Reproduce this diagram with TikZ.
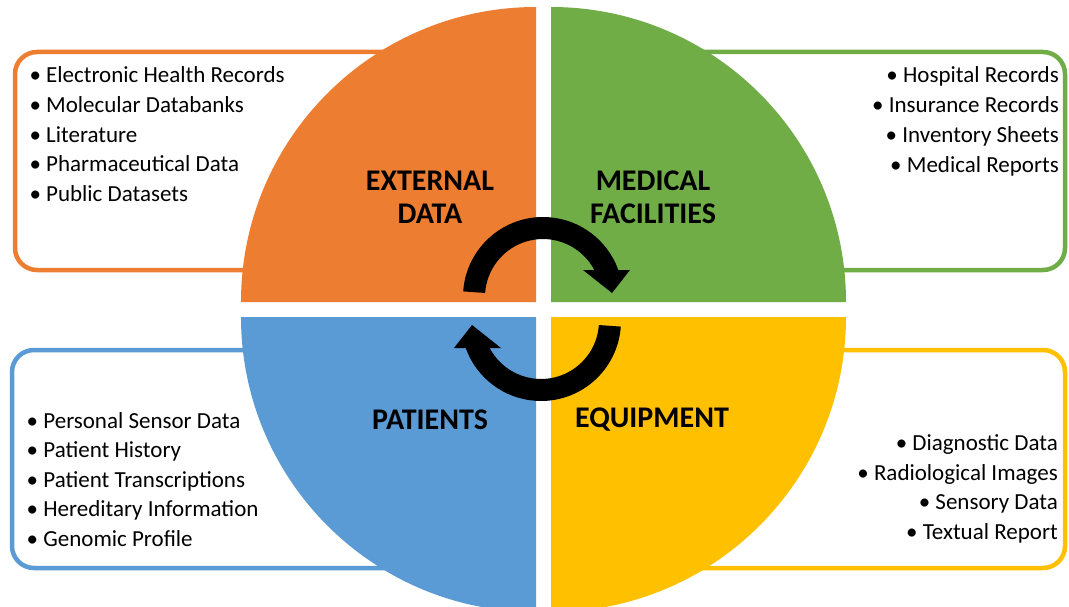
\documentclass[tikz,border=0pt]{standalone}
\usepackage{fontspec}
\setmainfont{Carlito}
\definecolor{qOrange}{HTML}{ED7D31}
\definecolor{qGreen}{HTML}{70AD47}
\definecolor{qBlue}{HTML}{5B9BD5}
\definecolor{qYellow}{HTML}{FFC000}
\begin{document}
\begin{tikzpicture}[x=1pt,y=-1pt,
  panel/.style={line width=4.5pt, rounded corners=22pt, fill=white},
  quad/.style={draw=none},
  heading/.style={font=\bfseries\fontsize{30}{33}\selectfont, align=center, inner sep=0pt, text=black},
  item/.style={font=\fontsize{23}{28}\selectfont, inner sep=0pt, text=black},
  cyclearrow/.style={fill=black, draw=none}]
\useasboundingbox (0,0) rectangle (1069,607);
\clip (0,0) rectangle (1069,607);
\fill[white] (0,0) rectangle (1069,607);

% rounded side panels, partly hidden behind the disc
\draw[panel, draw=qOrange] (15,52) rectangle (530,270);
\draw[panel, draw=qGreen] (560,52) rectangle (1065,270);
\draw[panel, draw=qBlue] (12,350) rectangle (530,568);
\draw[panel, draw=qYellow] (560,350) rectangle (1065,568);

% four quarter discs
\fill[quad, qOrange] (536,302) -- (241,302) arc[start angle=180, end angle=270, radius=295] -- cycle;
\fill[quad, qGreen] (551,302) -- (551,7) arc[start angle=270, end angle=360, radius=295] -- cycle;
\fill[quad, qBlue] (536,317) -- (241,317) arc[start angle=180, end angle=90, radius=295] -- cycle;
\fill[quad, qYellow] (551,317) -- (846,317) arc[start angle=0, end angle=90, radius=295] -- cycle;

% circular arrows in the middle
\foreach \turn in {0,180} {
  \begin{scope}[rotate around={\turn:(542,309)}]
    \fill[cyclearrow] ([shift={(543,297)}]184:80) arc[start angle=184, end angle=340, radius=80]
      -- ([shift={(543,297)}]340:58) arc[start angle=340, end angle=184, radius=58] -- cycle;
    \fill[cyclearrow] (583,270) -- (630,270) -- (612,293) -- cycle;
  \end{scope}
}

% quadrant titles
\node[heading] (external) at (430,197) {EXTERNAL\\DATA};
\node[heading] (medical) at (653,197) {MEDICAL\\FACILITIES};
\node[heading] (patients) at (430,420) {PATIENTS};
\node[heading] (equipment) at (652,420) {EQUIPMENT};

% bullet lists
\foreach \t [count=\i from 0] in {Electronic Health Records, Molecular Databanks, Literature, Pharmaceutical Data, Public Datasets}
  \node[item, anchor=base west] (ext-\i) at (29.3, {83+29.6*\i}) {• \t};
\foreach \t [count=\i from 0] in {Hospital Records, Insurance Records, Inventory Sheets, Medical Reports}
  \node[item, anchor=base east] (med-\i) at (1059, {83+29.8*\i}) {• \t};
\foreach \t [count=\i from 0] in {Personal Sensor Data, Patient History, Patient Transcriptions, Hereditary Information, Genomic Profile}
  \node[item, anchor=base west] (pat-\i) at (26.5, {428+29.5*\i}) {• \t};
\foreach \t [count=\i from 0] in {Diagnostic Data, Radiological Images, Sensory Data, Textual Report}
  \node[item, anchor=base east] (equ-\i) at (1058, {450.5+29.7*\i}) {• \t};
\end{tikzpicture}
\end{document}
